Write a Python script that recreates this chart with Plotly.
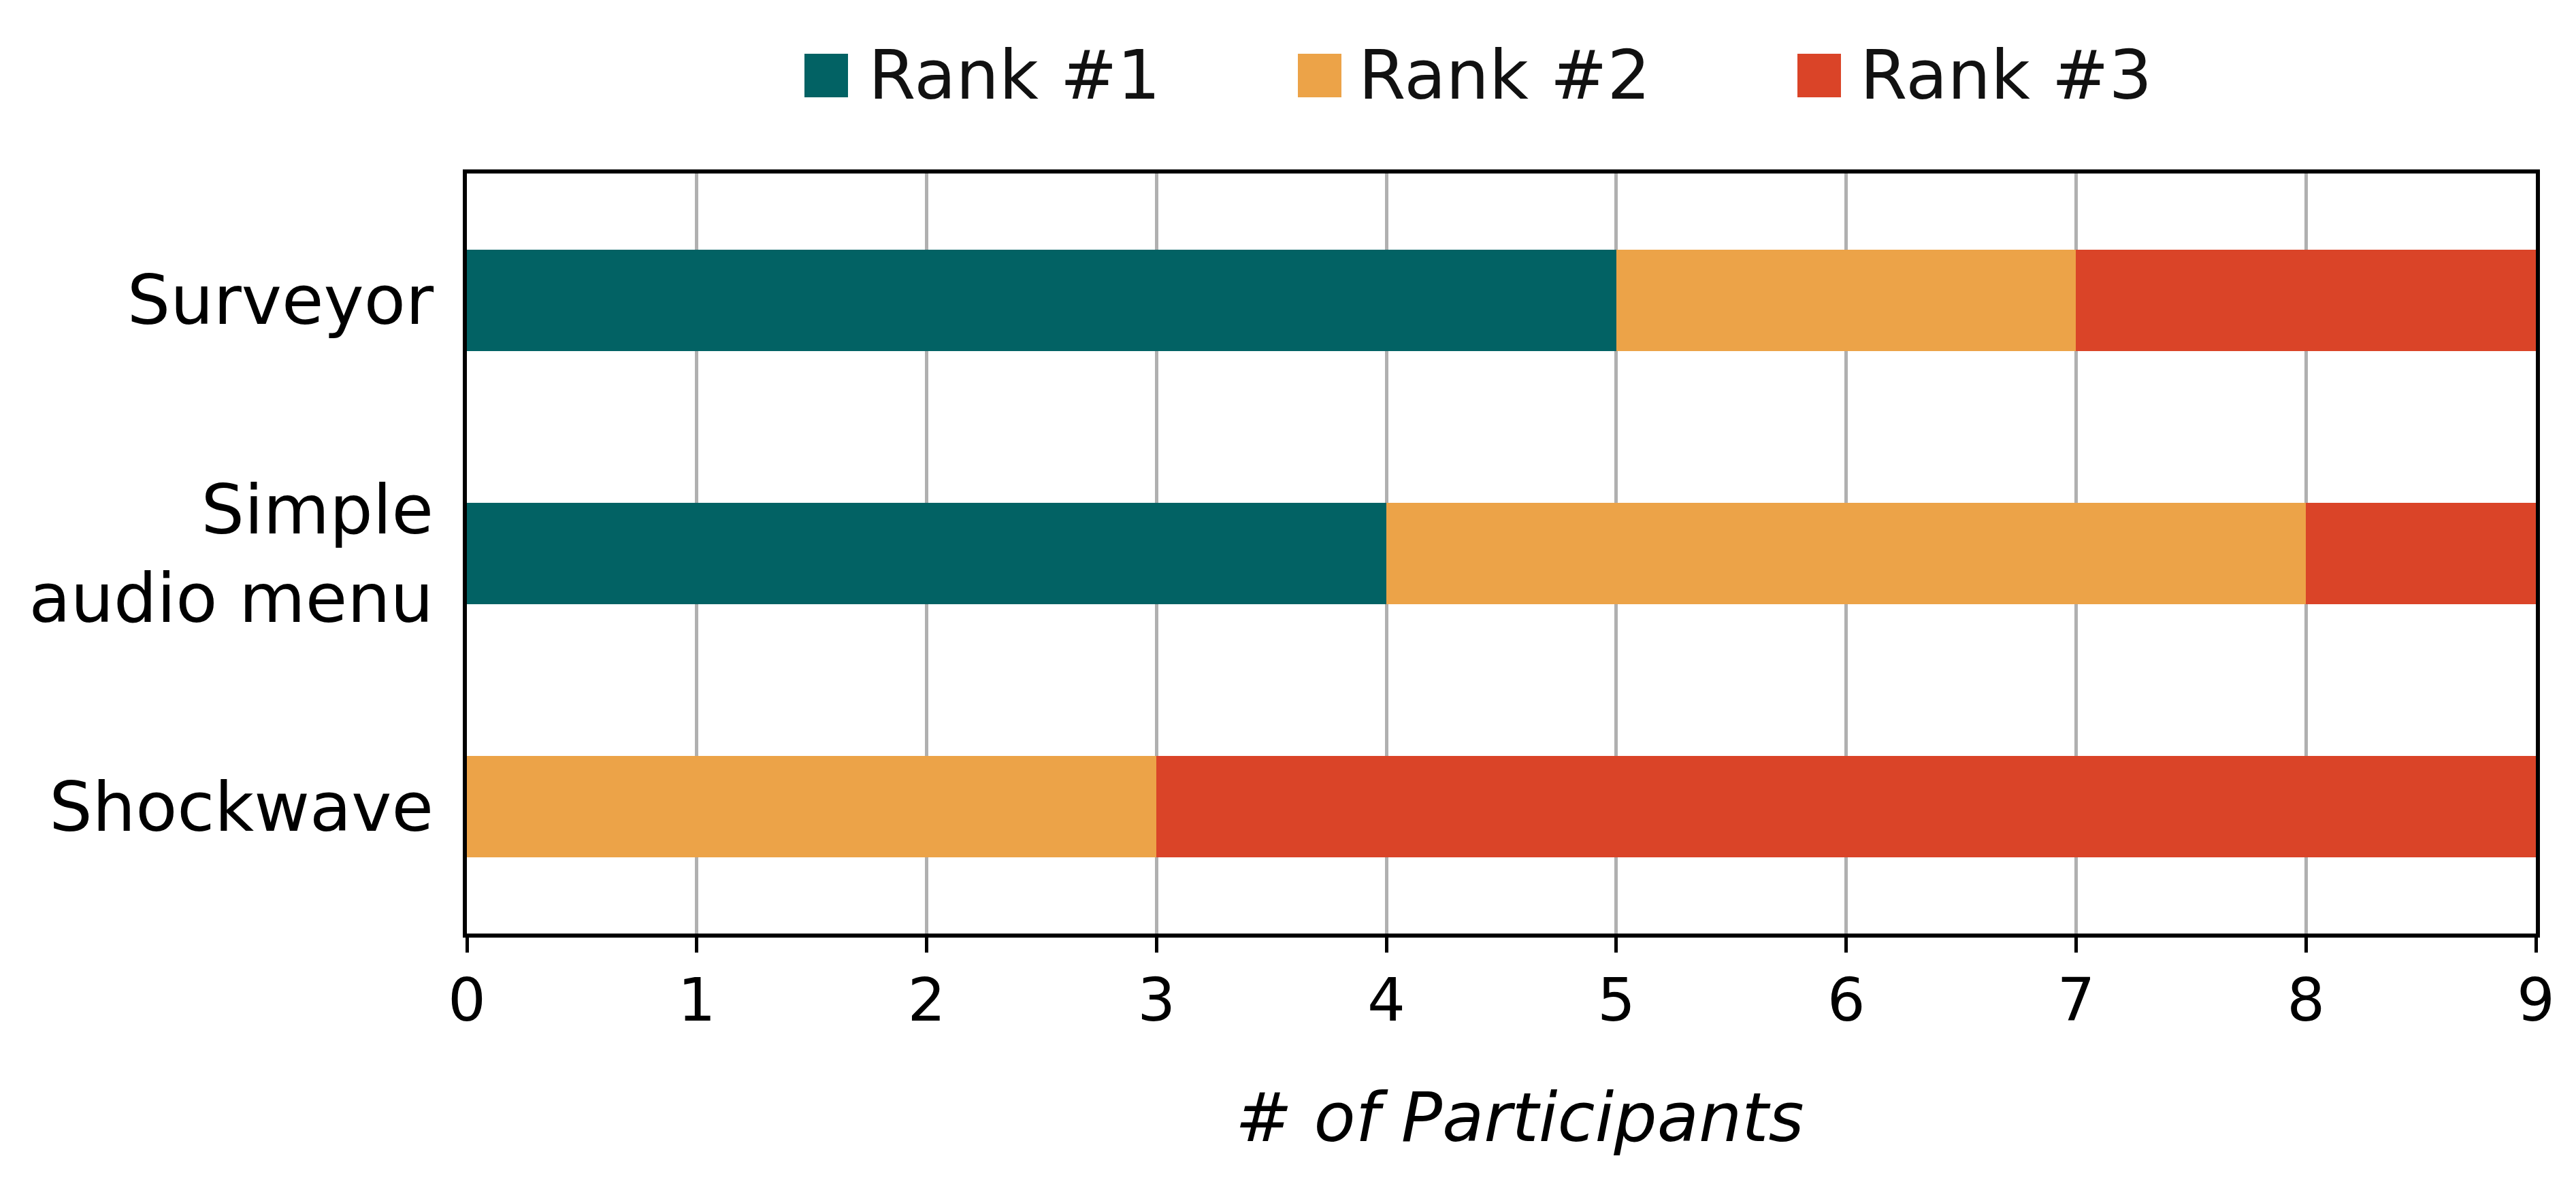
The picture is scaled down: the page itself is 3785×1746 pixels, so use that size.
import plotly.graph_objects as go

# dados (numero de participantes por posicao no ranking)
categories = ["Surveyor", "Simple<br>audio menu", "Shockwave"]
rank_names = ["Rank #1", "Rank #2", "Rank #3"]
rank1 = [5, 4, 0]
rank2 = [2, 4, 3]
rank3 = [2, 1, 6]
x_ticks = [0, 1, 2, 3, 4, 5, 6, 7, 8, 9]
x_title = "# of Participants"

C_RANK = ["#026264", "#eca348", "#da4428"]
FONT = "DejaVu Sans"

W, H = 3785, 1746
L, R, T, B = 686, 3726, 255, 1372   # area do grafico em pixels


def px(x):
    return (x - L) / (R - L)


def py(y):
    return (B - y) / (B - T)


fig = go.Figure()
for name, vals, color in zip(rank_names, [rank1, rank2, rank3], C_RANK):
    fig.add_trace(go.Bar(y=categories, x=vals, name=name, orientation="h",
                         width=0.4, marker=dict(color=color, line_width=0),
                         showlegend=False))

# legenda manual (quadrados grandes como no matplotlib)
sq_x0 = [1182, 1907, 2641]
txt_x0 = [1274, 1994, 2731]
for name, color, sx, tx in zip(rank_names, C_RANK, sq_x0, txt_x0):
    fig.add_shape(type="rect", xref="paper", yref="paper",
                  x0=px(sx), x1=px(sx + 64), y0=py(143), y1=py(79),
                  fillcolor=color, line_width=0)
    fig.add_annotation(text=name, xref="paper", yref="paper",
                       x=px(tx), y=py(111), xanchor="left", yanchor="middle",
                       showarrow=False,
                       font=dict(family=FONT, size=100, color="#111111"))

# titulo do eixo x (italico)
fig.add_annotation(text="<i>%s</i>" % x_title, xref="paper", yref="paper",
                   x=px(2233), y=py(1642), xanchor="center", yanchor="middle",
                   showarrow=False, font=dict(family=FONT, size=100,
                                              color="black"))

fig.update_layout(
    width=W, height=H,
    margin=dict(l=L, r=W - R, t=T, b=H - B),
    paper_bgcolor="white", plot_bgcolor="white",
    barmode="stack", bargap=0,
    font=dict(family=FONT, color="black"),
)
fig.update_xaxes(
    range=[0, 9], tickvals=x_ticks, ticks="outside", ticklen=22,
    tickwidth=5, tickcolor="black", tickfont=dict(size=88),
    ticklabelstandoff=-6,
    showgrid=True, gridcolor="#b0b0b0", gridwidth=5, zeroline=False,
    showline=True, linecolor="black", linewidth=6, mirror=True,
)
fig.update_yaxes(
    range=[2.5, -0.5], ticks="", tickfont=dict(size=100),
    ticklabelstandoff=23, showgrid=False, zeroline=False,
    showline=True, linecolor="black", linewidth=6, mirror=True,
)

fig.write_html("out.html", config={"displayModeBar": False},
               post_script="document.body.style.margin='0';")
